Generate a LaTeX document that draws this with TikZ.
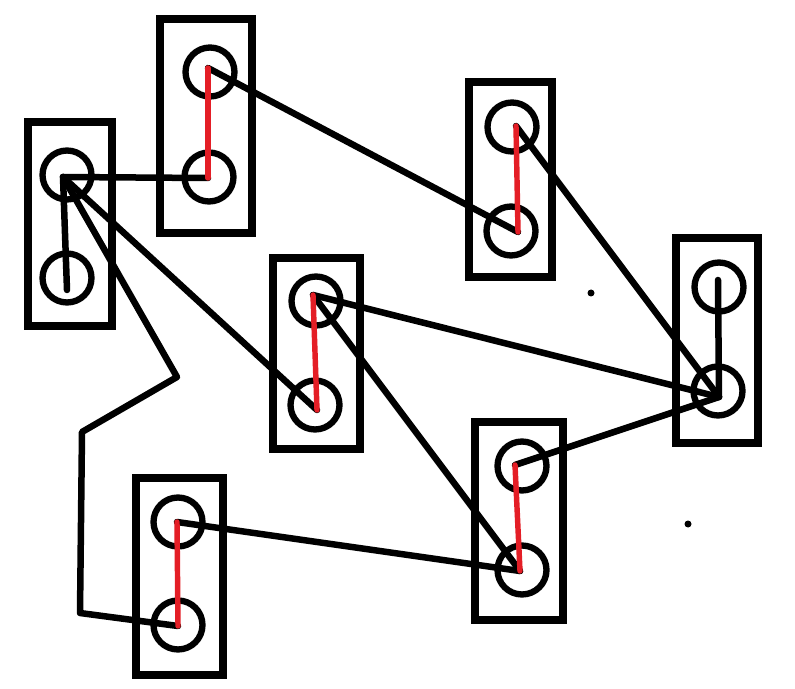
\documentclass[tikz,border=0pt]{standalone}
\usepackage{tikz}
\definecolor{wirered}{RGB}{228,30,38}

\begin{document}
\begin{tikzpicture}[x=0.02cm,y=-0.02cm,
    frame/.style 2 args={draw, line width=4.2pt, minimum width=#1*0.02cm, minimum height=#2*0.02cm, inner sep=0pt},
    pin/.style={draw, circle, line width=3.6pt, minimum size=0.98cm, inner sep=0pt},
    wire/.style={line width=3.7pt, line cap=round, line join=round},
    jumper/.style={wirered, line width=3.1pt, line cap=round}]
      \useasboundingbox (0,0) rectangle (795,689);
      \node[frame={84}{204}] (boxA) at (70,224) {};
      \node[frame={92}{214}] (boxB) at (206,126) {};
      \node[frame={83}{195}] (boxC) at (510.5,179.5) {};
      \node[frame={82}{205}] (boxD) at (717,340.5) {};
      \node[frame={87}{191}] (boxE) at (316.5,353.5) {};
      \node[frame={88}{198}] (boxF) at (519,521) {};
      \node[frame={87}{197}] (boxG) at (179.5,576.5) {};
      \foreach \n/\x/\y in {a1/67/175, a2/67/278, b1/210/72, b2/209/177, c1/512/127, c2/511/231,
          d1/719/287, d2/718/391, e1/316/301, e2/315/405, f1/522/466, f2/522/570, g1/178/522, g2/178/625}
        \node[pin] (\n) at (\x,\y) {};
      \foreach \n/\x/\y in {a1/63/177, a2/67/290, b1/208/68, b2/208/178, c1/516/126, c2/518/232,
          d1/718/280, d2/719/397, e1/313/295, e2/317/410, f1/515/465, f2/520/571, g1/177/522, g2/178/626}
        \coordinate (\n t) at (\x,\y);
      \coordinate (k1) at (177,377);
      \coordinate (k2) at (82,432);
      \coordinate (k3) at (80,613);
      \foreach \a/\b in {a1/b2,a1/a2,b1/c2,c1/d2,d1/d2,a1/e2,e1/d2,e1/f2,f1/d2,g1/f2}
        \draw[wire] (\a t) -- (\b t);
      \draw[wire] (a1t) -- (k1) -- (k2) -- (k3) -- (g2t);
      \foreach \a/\b in {b1/b2,c1/c2,e1/e2,f1/f2,g1/g2}
        \draw[jumper] (\a t) -- (\b t);
      \fill (591,293) circle[radius=3.5];
      \fill (688,524) circle[radius=3.5];
\end{tikzpicture}
\end{document}
